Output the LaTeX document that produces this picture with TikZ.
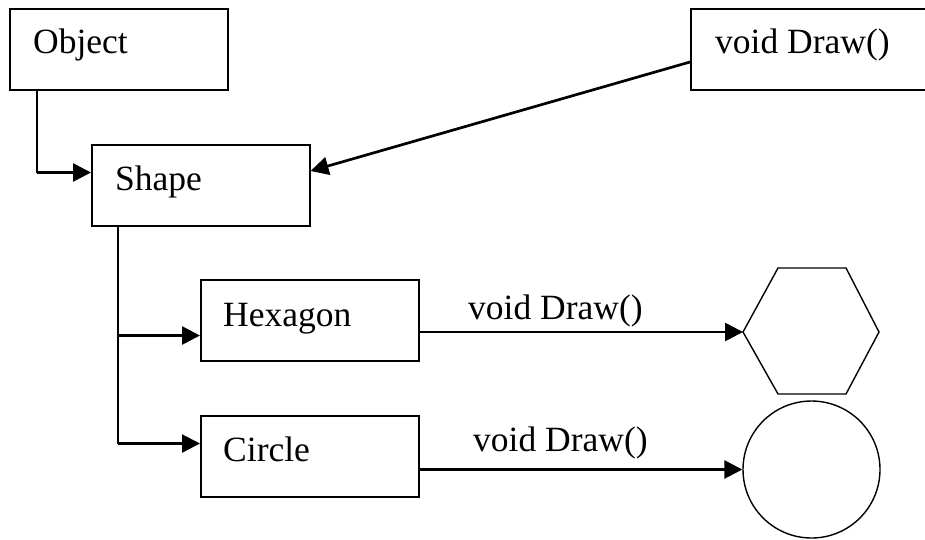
\documentclass[tikz,border=0pt]{standalone}
\usepackage{fontspec}
\setmainfont{Liberation Serif}
\usetikzlibrary{arrows.meta,calc}
\begin{document}
\begin{tikzpicture}[x=1pt,y=-1pt,
  box/.style={draw,line width=1.5pt,rectangle,inner sep=0pt,
              minimum width=218pt,minimum height=81pt,anchor=north west},
  txt/.style={anchor=base west,inner sep=0pt,font=\fontsize{35.5}{40}\selectfont},
  trunk/.style={line width=1.4pt},
  link/.style={line width=2.7pt,-{Triangle[length=18pt,width=18pt]}},
  outline/.style={draw,line width=1.4pt}]
\clip (0,0) rectangle (925,539);

% class boxes
\node[box] (object) at (9,8) {};
\node[box,minimum width=260pt] (drawbox) at (690,8) {};
\node[box] (shape) at (91,144) {};
\node[box] (hexbox) at (200,279) {};
\node[box] (circbox) at (200,415) {};

% box captions
\node[txt] (tobject) at (33,53) {Object};
\node[txt] (tdraw) at (715,53) {void Draw()};
\node[txt] (tshape) at (115,190) {Shape};
\node[txt] (thex) at (223,326) {Hexagon};
\node[txt] (tcirc) at (223,461) {Circle};

% Object -> Shape
\coordinate (objdown) at ($(object.south west)+(28,0)$);
\coordinate (objbend) at ($(objdown)+(0,82)$);
\draw[trunk] (objdown) -- (objbend);
\draw[link] (objbend) -- (objbend -| shape.west);

% void Draw() -> Shape
\coordinate (drawout) at ($(drawbox.north west)+(0,54)$);
\coordinate (shapein) at ($(shape.north east)+(0,27)$);
\draw[link] (drawout) -- (shapein);

% Shape -> Hexagon, Circle
\coordinate (shdown) at ($(shape.south west)+(27,0)$);
\coordinate (hexbranch) at ($(shdown)+(0,109)$);
\coordinate (circbranch) at ($(shdown)+(0,217)$);
\draw[trunk] (shdown) -- (circbranch);
\draw[link] (hexbranch) -- (hexbranch -| hexbox.west);
\draw[link,line width=2.1pt] (circbranch) -- (circbranch -| circbox.west);

% drawn figures
\coordinate (hexL) at (743,332);
\draw[outline] (hexL) -- (778,268) -- (846,268) -- (879,332)
  -- (846,394) -- (778,394) -- cycle;
\node[circle,outline,minimum size=137pt,inner sep=0pt] (circ) at (811.5,469.5) {};

% Draw() calls
\draw[link] (hexL -| hexbox.east) -- (hexL);
\draw[link] (circ.west -| circbox.east) -- (circ.west);
\node[txt] (lhex) at (468,319) {void Draw()};
\node[txt] (lcirc) at (473,451) {void Draw()};
\end{tikzpicture}
\end{document}
